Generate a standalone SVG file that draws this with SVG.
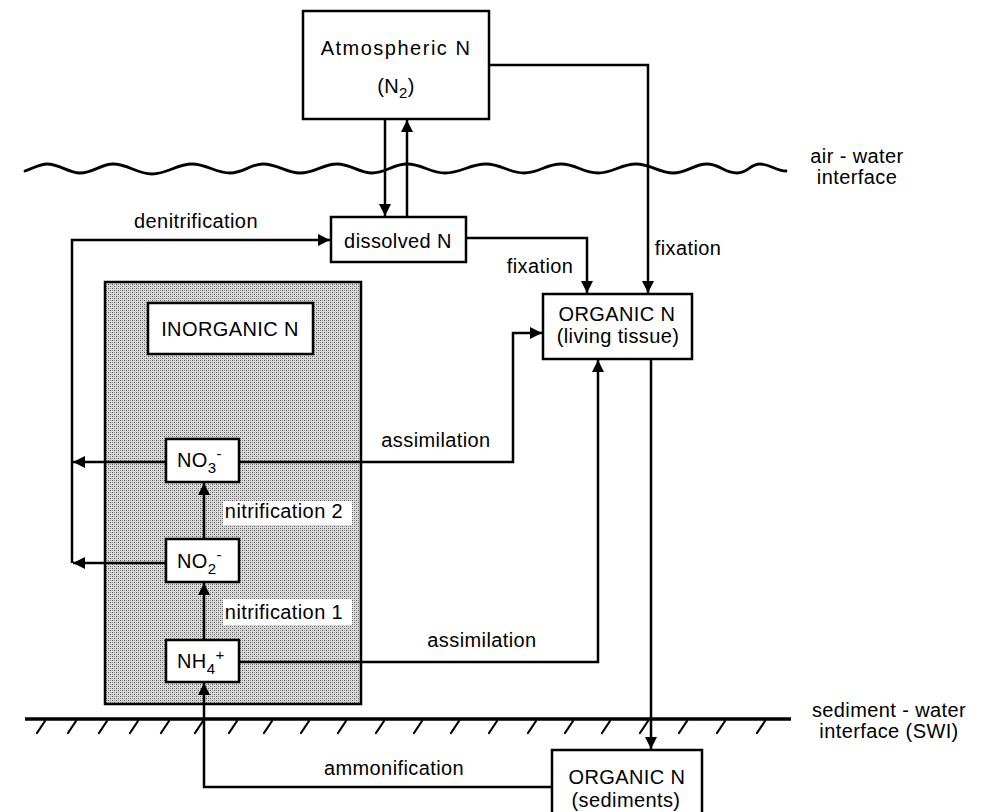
<svg xmlns="http://www.w3.org/2000/svg" width="985" height="812" viewBox="0 0 985 812">
  <defs>
    <style>
      text { font-family: "Liberation Sans", Arial, Helvetica, sans-serif; font-size: 20px; letter-spacing: 0.4px; fill: #000; }
      .mid { text-anchor: middle; }
      .box { fill: #fff; stroke: #000; stroke-width: 2.5; }
      .conn { fill: none; stroke: #000; stroke-width: 2.5; }
      .surface { fill: none; stroke: #000; stroke-width: 2.8; stroke-linecap: round; }
      .ground { fill: none; stroke: #000; stroke-width: 3.5; }
      .hatch { fill: none; stroke: #000; stroke-width: 2.2; stroke-linecap: round; }
      .sub { font-size: 15px; }
    </style>
    <!-- halftone dot screen for the inorganic pool -->
    <pattern id="screen" width="4" height="4" patternUnits="userSpaceOnUse">
      <rect width="4" height="4" fill="#dadada"/>
      <rect x="0" y="0" width="1" height="1" fill="#555"/>
      <rect x="2" y="2" width="1" height="1" fill="#555"/>
      <rect x="2" y="0" width="1" height="1" fill="#9a9a9a"/>
      <rect x="0" y="2" width="1" height="1" fill="#9a9a9a"/>
    </pattern>
    <marker id="arrow" viewBox="0 0 10 10" refX="10" refY="5" markerWidth="13" markerHeight="12" markerUnits="userSpaceOnUse" orient="auto">
      <path d="M0,0 L10,5 L0,10 Z" fill="#000"/>
    </marker>
  </defs>

  <rect width="985" height="812" fill="#fff"/>

  <!-- air-water interface -->
  <path class="surface" d="M25,171 C34,168 40,164 47,164 C60,164 68,173 80,173 C93,173 101,164 113,164 C128,164 137,174 152,174 C167,174 177,164 192,164 C206,164 216,173 230,173 C244,173 250,164 263,164 C278,164 286,173 300,173 C315,173 323,164 337,164 C351,164 359,173 372,173 C386,173 393,164 407,164 C422,164 430,173 445,173 C461,173 470,164 486,164 C501,164 509,173 524,173 C539,173 546,164 561,164 C576,164 583,173 598,173 C613,173 621,164 636,164 C651,164 659,173 673,173 C687,173 694,164 707,164 C720,164 724,173 737,173 C748,173 750,164 760,164 C770,164 776,171 786,171"/>
  <text class="mid" x="857" y="163">air - water</text>
  <text class="mid" x="857" y="184">interface</text>

  <!-- sediment-water interface -->
  <path class="ground" d="M25,719 H791"/>
  <path class="hatch" d="M45,721 l-8,12 M76,721 l-8,12 M107,721 l-8,12 M138,721 l-8,12 M169,721 l-8,12 M203,721 l-8,12 M237,721 l-8,12 M272,721 l-8,12 M309,721 l-8,12 M346,721 l-8,12 M384,721 l-8,12 M422,721 l-8,12 M459,721 l-8,12 M497,721 l-8,12 M536,721 l-8,12 M573,721 l-8,12 M610,721 l-8,12 M648,721 l-8,12 M687,721 l-8,12 M725,721 l-8,12 M765,721 l-8,12"/>
  <text class="mid" x="889" y="717">sediment - water</text>
  <text class="mid" x="889" y="738">interface (SWI)</text>

  <!-- inorganic pool -->
  <g id="inorganic-pool">
    <rect x="105" y="282" width="256" height="422" fill="url(#screen)" stroke="#000" stroke-width="2.5"/>
    <rect class="box" x="148" y="303" width="165" height="51"/>
    <text class="mid" x="230" y="336">INORGANIC N</text>
  </g>

  <!-- connectors -->
  <g id="connectors">
    <path class="conn" d="M385,119 V216" marker-end="url(#arrow)"/>
    <path class="conn" d="M407,217 V120" marker-end="url(#arrow)"/>
    <path class="conn" d="M489,65 H648 V293" marker-end="url(#arrow)"/>
    <path class="conn" d="M466,238 H587 V293" marker-end="url(#arrow)"/>
    <path class="conn" d="M72,563 V240 H330" marker-end="url(#arrow)"/>
    <path class="conn" d="M166,462 H73" marker-end="url(#arrow)"/>
    <path class="conn" d="M166,563 H73" marker-end="url(#arrow)"/>
    <path class="conn" d="M204,539 V483" marker-end="url(#arrow)"/>
    <path class="conn" d="M204,640 V583" marker-end="url(#arrow)"/>
    <path class="conn" d="M239,462 H513 V333 H542" marker-end="url(#arrow)"/>
    <path class="conn" d="M239,662 H598 V360" marker-end="url(#arrow)"/>
    <path class="conn" d="M651,359 V749" marker-end="url(#arrow)"/>
    <path class="conn" d="M552,787 H204 V683" marker-end="url(#arrow)"/>
  </g>

  <!-- connector labels -->
  <rect x="223" y="501" width="129" height="24" fill="#fff"/>
  <rect x="223" y="599" width="129" height="26" fill="#fff"/>
  <text class="mid" x="284" y="518">nitrification 2</text>
  <text class="mid" x="284" y="619">nitrification 1</text>
  <text class="mid" x="196" y="228">denitrification</text>
  <text class="mid" x="540" y="273">fixation</text>
  <text class="mid" x="688" y="255">fixation</text>
  <text class="mid" x="436" y="447">assimilation</text>
  <text class="mid" x="482" y="647">assimilation</text>
  <text class="mid" x="394" y="775">ammonification</text>

  <!-- nodes -->
  <g id="atmospheric-n">
    <rect class="box" x="303" y="11" width="186" height="108"/>
    <text class="mid" x="396" y="55" style="letter-spacing:1.5px">Atmospheric N</text>
    <text class="mid" x="396" y="93">(N<tspan class="sub" dy="5">2</tspan><tspan dy="-5">)</tspan></text>
  </g>

  <g id="dissolved-n">
    <rect class="box" x="331" y="217" width="135" height="45"/>
    <text class="mid" x="398" y="248">dissolved N</text>
  </g>

  <g id="organic-n-living">
    <rect class="box" x="543" y="294" width="149" height="65"/>
    <text class="mid" x="617" y="321">ORGANIC N</text>
    <text class="mid" x="618" y="343">(living tissue)</text>
  </g>

  <g id="no3">
    <rect class="box" x="166" y="439" width="73" height="43"/>
    <text x="177" y="467">NO<tspan class="sub" dy="6">3</tspan><tspan class="sub" dy="-14">-</tspan></text>
  </g>

  <g id="no2">
    <rect class="box" x="166" y="539" width="73" height="43"/>
    <text x="177" y="568">NO<tspan class="sub" dy="6">2</tspan><tspan class="sub" dy="-14">-</tspan></text>
  </g>

  <g id="nh4">
    <rect class="box" x="166" y="640" width="73" height="42"/>
    <text x="177" y="668">NH<tspan class="sub" dy="6">4</tspan><tspan class="sub" dy="-14">+</tspan></text>
  </g>

  <g id="organic-n-sediments">
    <rect class="box" x="552" y="750" width="150" height="70"/>
    <text class="mid" x="627" y="784">ORGANIC N</text>
    <text class="mid" x="626" y="807">(sediments)</text>
  </g>
</svg>
